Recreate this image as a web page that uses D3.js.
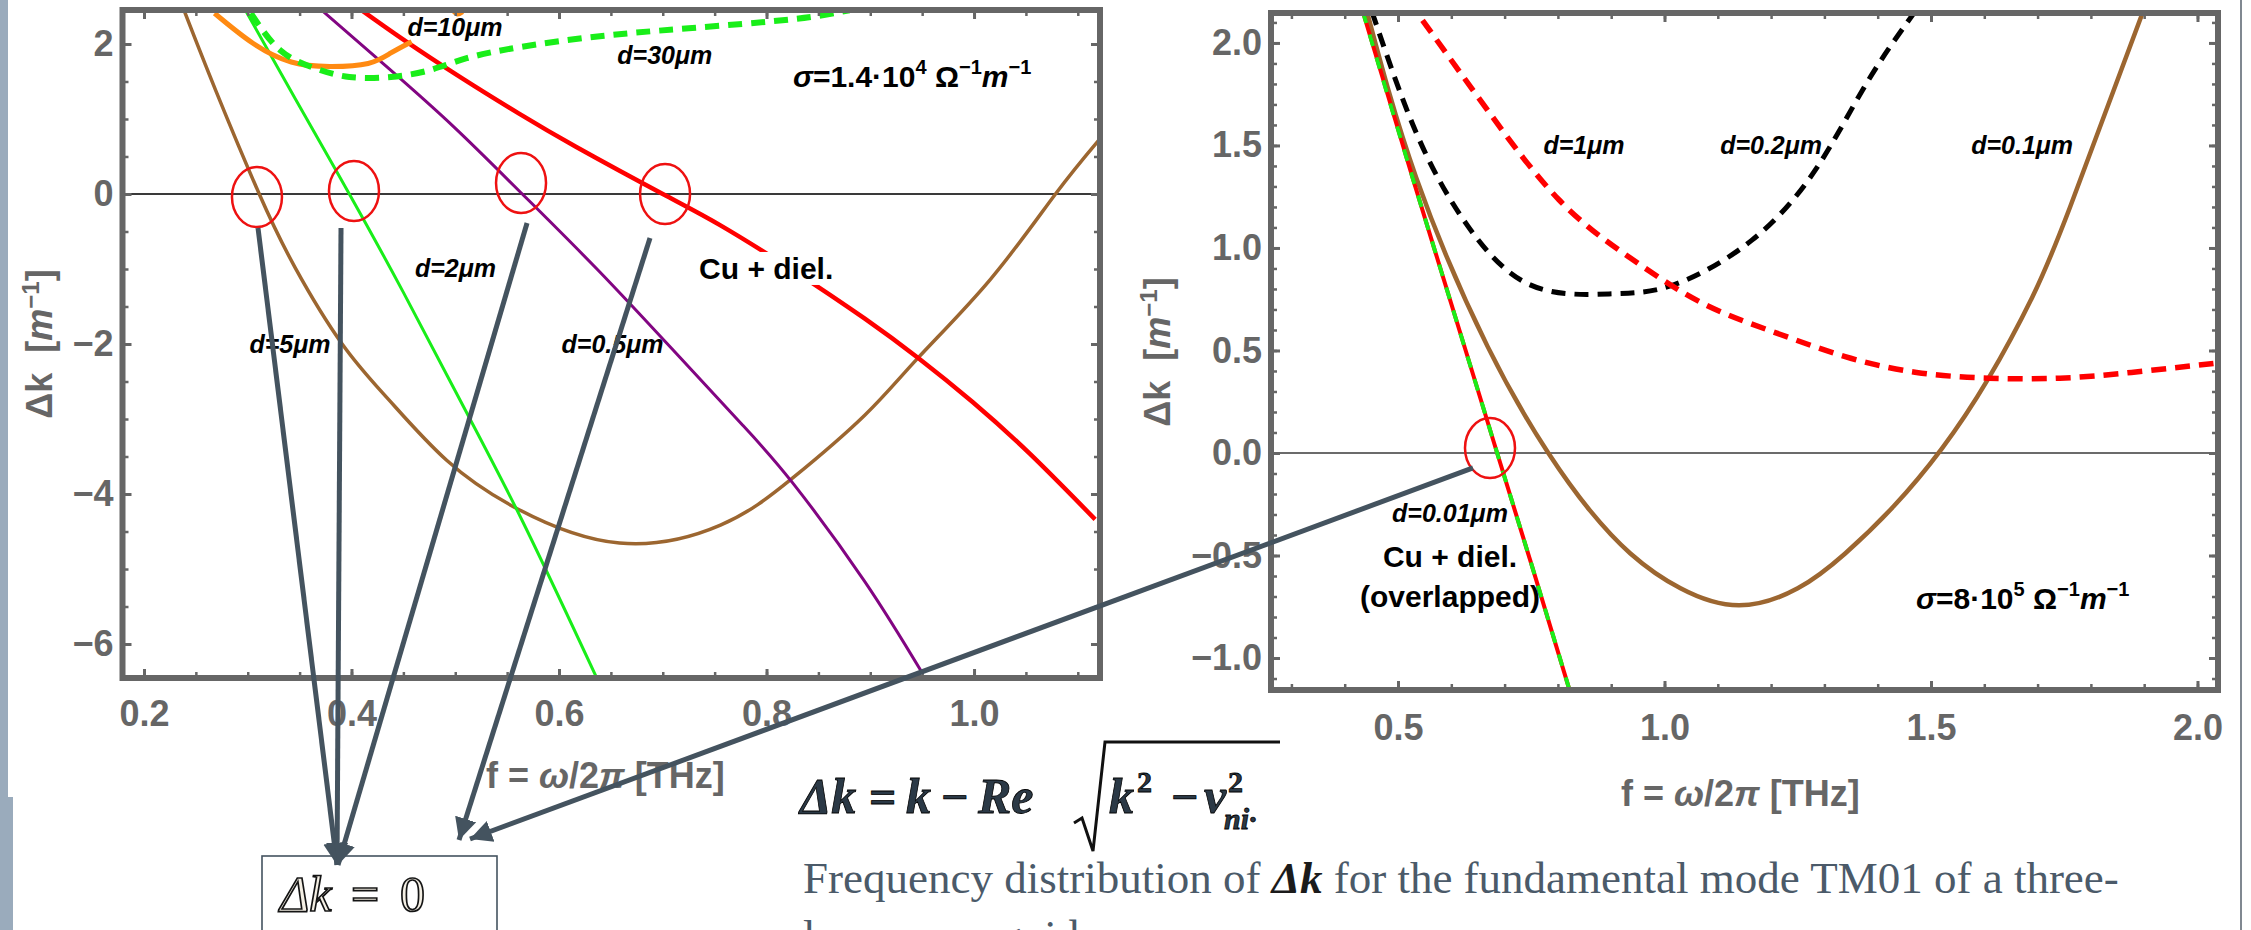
<!DOCTYPE html>
<html>
<head>
<meta charset="utf-8">
<script src="https://cdn.jsdelivr.net/npm/d3@7"></script>
<style>
  body { margin: 0; background: #fff; }
  svg { display: block; }
</style>
</head>
<body>
<div id="chart"></div>
<script>
// ---------- left panel, sigma = 1.4e4 (f in THz, dk in 1/m) ----------
const xTicksA = [0.2, 0.4, 0.6, 0.8, 1.0];
const yTicksA = [2, 0, -2, -4, -6];
const brown5um = [[0.2382, 2.464], [0.2694, 1.372], [0.3111, 0], [0.3458, -0.984], [0.391, -1.999], [0.4361, -2.745],
  [0.4917, -3.55], [0.5611, -4.206], [0.6583, -4.654], [0.7556, -4.415], [0.825, -3.789], [0.8944, -2.953],
  [0.9465, -2.178], [1.016, -1.134], [1.0785, 0], [1.1201, 0.716]];
const green2um = [[0.2972, 2.464], [0.3458, 1.271], [0.3979, 0], [0.45, -1.312], [0.5056, -2.774], [0.5646, -4.356], [0.6361, -6.444]];
const purple05um = [[0.3701, 2.464], [0.4361, 1.671], [0.4986, 0.895], [0.5646, 0], [0.6375, -1.014], [0.7104, -2.088],
  [0.7764, -3.073], [0.825, -3.848], [0.8944, -5.161], [0.95, -6.384]];
const redCuA = [[0.4083, 2.464], [0.45, 2.058], [0.5056, 1.551], [0.5611, 1.074], [0.6167, 0.626], [0.7, 0],
  [0.7556, -0.418], [0.825, -1.014], [0.8944, -1.659], [0.9465, -2.19], [0.9986, -2.774], [1.0542, -3.469], [1.1167, -4.338]];
const orange10um = [[0.268, 2.41], [0.305, 2.01], [0.342, 1.76], [0.379, 1.70], [0.416, 1.74], [0.438, 1.88], [0.458, 2.03]];
const orange10umB = [[0.497, 2.46], [0.502, 2.40], [0.507, 2.43]];
const green30um = [[0.303, 2.41], [0.331, 1.92], [0.364, 1.68], [0.398, 1.56], [0.438, 1.56], [0.475, 1.65],
  [0.511, 1.81], [0.563, 1.96], [0.637, 2.10], [0.725, 2.21], [0.825, 2.33], [0.88, 2.45]];

// ---------- right panel, sigma = 8e5 ----------
const xTicksB = [0.5, 1.0, 1.5, 2.0];
const yTicksB = [2.0, 1.5, 1.0, 0.5, 0.0, -0.5, -1.0];
const cuOverlap = [[0.434, 2.153], [0.53, 1.32], [0.644, 0.356], [0.686, 0], [0.75, -0.54], [0.822, -1.158]];
const brown01um = [[0.44, 2.17], [0.534, 1.344], [0.668, 0.52], [0.782, 0], [0.86, -0.28], [0.936, -0.49],
  [1.03, -0.66], [1.14, -0.743], [1.25, -0.66], [1.339, -0.49], [1.43, -0.26], [1.52, 0.02], [1.607, 0.36],
  [1.69, 0.76], [1.761, 1.2], [1.896, 2.14]];
const black02um = [[0.451, 2.153], [0.534, 1.563], [0.6275, 1.12], [0.748, 0.82], [0.896, 0.776], [1.017, 0.82],
  [1.164, 1.038], [1.285, 1.388], [1.379, 1.803], [1.47, 2.153]];
const red1um = [[0.546, 2.11], [0.668, 1.672], [0.802, 1.235], [0.936, 0.951], [1.07, 0.732], [1.205, 0.59],
  [1.339, 0.47], [1.473, 0.393], [1.607, 0.365], [1.742, 0.365], [1.876, 0.393], [2.03, 0.437]];

// zero-crossing markers [f, dk]
const circlesA = [[0.3089, -0.04], [0.4024, 0.04], [0.5634, 0.147], [0.7022, 0]];
const circlesB = [[0.6726, 0.024]];

// curve labels [text, f, dk]
const labelsA = [["d=10μm", 0.4998, 2.107], ["d=30μm", 0.702, 1.733], ["d=2μm", 0.5002, -1.107],
  ["d=5μm", 0.3407, -2.12], ["d=0.5μm", 0.6516, -2.12]];
const labelsB = [["d=1μm", 0.849, 1.459], ["d=0.2μm", 1.2, 1.459], ["d=0.1μm", 1.671, 1.459], ["d=0.01μm", 0.5976, -0.337]];

const W = 2251, H = 930;
const svg = d3.select("#chart").append("svg").attr("width", W).attr("height", H)
  .style("font-family", "'Liberation Sans', Arial, sans-serif");

// slide decoration
svg.append("rect").attr("x", 0).attr("y", 0).attr("width", 8).attr("height", 797).attr("fill", "#9aabbc");
svg.append("rect").attr("x", 0).attr("y", 797).attr("width", 13).attr("height", 133).attr("fill", "#9aabbc");
svg.append("line").attr("x1", 2241).attr("x2", 2241).attr("y1", 0).attr("y2", H).attr("stroke", "#56616c").attr("stroke-width", 1.5);

function rich(sel, parts, supSize) {
  let off = 0;
  parts.forEach(([t, k]) => {
    const ts = sel.append("tspan").text(t);
    if (k === "i") ts.attr("font-style", "italic");
    if (k === "sup") {
      ts.attr("font-size", supSize).attr("dy", -13 - off);
      off = -13;
    } else if (off !== 0) {
      ts.attr("dy", -off);
      off = 0;
    }
  });
}

const panels = [
  {
    id: "a", left: 122.5, right: 1100, top: 10, bottom: 678,
    xDomain: [0.1793, 1.1214], yDomain: [-6.453, 2.453],
    xTicks: xTicksA, yTicks: yTicksA, xMinor: d3.range(0.2, 1.11, 0.05), yMinor: d3.range(-6, 2.1, 0.5),
    xFmt: ".1f", yFmt: "d", xPad: 22, zeroW: 2,
    series: [
      { data: brown5um, color: "#9c6630", width: 3.5 },
      { data: green2um, color: "#19ee19", width: 3 },
      { data: purple05um, color: "#820582", width: 3 },
      { data: redCuA, color: "#ff0000", width: 4.5 },
      { data: orange10um, color: "#ff8a12", width: 5 },
      { data: orange10umB, color: "#ff8a12", width: 5 },
      { data: green30um, color: "#19ee19", width: 6, dash: "14,9" }
    ],
    circles: circlesA, labels: labelsA, titleX: 486, titleY: 788, ytX: 52, ytY: 344
  },
  {
    id: "b", left: 1271, right: 2218, top: 13, bottom: 690,
    xDomain: [0.2617, 2.0385], yDomain: [-1.156, 2.146],
    xTicks: xTicksB, yTicks: yTicksB, xMinor: d3.range(0.3, 2.01, 0.1), yMinor: d3.range(-1.1, 2.11, 0.1),
    xFmt: ".1f", yFmt: ".1f", xPad: 24, zeroW: 1.6,
    series: [
      { data: brown01um, color: "#9c6630", width: 4.5 },
      { data: black02um, color: "#000000", width: 5, dash: "14,9" },
      { data: red1um, color: "#ff0000", width: 5.5, dash: "15,9" },
      { data: cuOverlap, color: "#ff0000", width: 4 },
      { data: cuOverlap, color: "#19ee19", width: 4, dash: "12,12" }
    ],
    circles: circlesB, labels: labelsB, titleX: 1621, titleY: 806, ytX: 1170, ytY: 352
  }
];

const scales = {};

panels.forEach(p => {
  const x = d3.scaleLinear().domain(p.xDomain).range([p.left, p.right]);
  const y = d3.scaleLinear().domain(p.yDomain).range([p.bottom, p.top]);
  scales[p.id] = { x, y };

  svg.append("clipPath").attr("id", "clip-" + p.id)
    .append("rect")
    .attr("x", p.left).attr("y", p.top)
    .attr("width", p.right - p.left).attr("height", p.bottom - p.top);

  const g = svg.append("g");

  g.append("line")
    .attr("x1", p.left).attr("x2", p.right)
    .attr("y1", y(0)).attr("y2", y(0))
    .attr("stroke", "#3a3a3a").attr("stroke-width", p.zeroW);

  const line = d3.line().x(d => x(d[0])).y(d => y(d[1])).curve(d3.curveNatural);

  g.append("g").attr("clip-path", `url(#clip-${p.id})`)
    .selectAll("path")
    .data(p.series)
    .join("path")
    .attr("d", d => line(d.data))
    .attr("fill", "none")
    .attr("stroke", d => d.color)
    .attr("stroke-width", d => d.width)
    .attr("stroke-dasharray", d => d.dash || null);

  // frame ticks (inward, mathematica style)
  const styleAxis = sel => {
    sel.select(".domain").remove();
    sel.selectAll("line").attr("stroke", "#666").attr("stroke-width", 3);
    sel.selectAll("text").attr("fill", "#666").attr("font-size", 36).attr("font-weight", "bold")
      .attr("font-family", "'Liberation Sans', Arial, sans-serif");
  };
  const minorStyle = sel => {
    sel.select(".domain").remove();
    sel.selectAll("line").attr("stroke", "#666").attr("stroke-width", 2.5);
  };

  g.append("g").attr("transform", `translate(0,${p.bottom})`)
    .call(d3.axisBottom(x).tickValues(p.xMinor).tickSize(-6).tickFormat("")).call(minorStyle);
  g.append("g").attr("transform", `translate(0,${p.top})`)
    .call(d3.axisTop(x).tickValues(p.xMinor).tickSize(-6).tickFormat("")).call(minorStyle);
  g.append("g").attr("transform", `translate(${p.left},0)`)
    .call(d3.axisLeft(y).tickValues(p.yMinor).tickSize(-6).tickFormat("")).call(minorStyle);
  g.append("g").attr("transform", `translate(${p.right},0)`)
    .call(d3.axisRight(y).tickValues(p.yMinor).tickSize(-6).tickFormat("")).call(minorStyle);

  g.append("g").attr("transform", `translate(0,${p.bottom})`)
    .call(d3.axisBottom(x).tickValues(p.xTicks).tickSize(-9).tickPadding(p.xPad).tickFormat(d3.format(p.xFmt)))
    .call(styleAxis);
  g.append("g").attr("transform", `translate(0,${p.top})`)
    .call(d3.axisTop(x).tickValues(p.xTicks).tickSize(-9).tickFormat("")).call(styleAxis);
  g.append("g").attr("transform", `translate(${p.left},0)`)
    .call(d3.axisLeft(y).tickValues(p.yTicks).tickSize(-9).tickPadding(9).tickFormat(d3.format(p.yFmt)))
    .call(styleAxis);
  g.append("g").attr("transform", `translate(${p.right},0)`)
    .call(d3.axisRight(y).tickValues(p.yTicks).tickSize(-9).tickFormat("")).call(styleAxis);

  g.append("rect")
    .attr("x", p.left).attr("y", p.top)
    .attr("width", p.right - p.left).attr("height", p.bottom - p.top)
    .attr("fill", "none").attr("stroke", "#666").attr("stroke-width", 6);

  // axis titles
  const xt = g.append("text").attr("x", p.titleX).attr("y", p.titleY)
    .attr("fill", "#666").attr("font-size", 36).attr("font-weight", "bold");
  rich(xt, [["f = ", "n"], ["ω", "i"], ["/2", "n"], ["π", "i"], [" [THz]", "n"]], 24);

  const yt = g.append("text")
    .attr("transform", `translate(${p.ytX},${p.ytY}) rotate(-90)`)
    .attr("text-anchor", "middle").style("white-space", "pre")
    .attr("fill", "#666").attr("font-size", 36).attr("font-weight", "bold");
  rich(yt, [["Δk  [", "n"], ["m", "i"], ["−1", "sup"], ["]", "n"]], 24);

  // curve labels
  g.selectAll("text.lbl")
    .data(p.labels)
    .join("text")
    .attr("class", "lbl")
    .attr("x", d => x(d[1])).attr("y", d => y(d[2]))
    .attr("text-anchor", "middle")
    .attr("font-size", 25).attr("font-weight", "bold").attr("font-style", "italic")
    .attr("fill", "#000")
    .text(d => d[0]);

  // zero-crossing circles
  g.selectAll("ellipse")
    .data(p.circles)
    .join("ellipse")
    .attr("cx", d => x(d[0])).attr("cy", d => y(d[1]))
    .attr("rx", 25).attr("ry", 30)
    .attr("fill", "none").attr("stroke", "#ee1111").attr("stroke-width", 2.5);
});

// annotations inside panels
const A = scales.a, B = scales.b;
const cuA = svg.append("text").attr("x", A.x(0.735)).attr("y", A.y(-1.133))
  .attr("font-size", 30).attr("font-weight", "bold").text("Cu + diel.");
const bb = cuA.node().getBBox();
svg.insert("rect", () => cuA.node())
  .attr("x", bb.x - 2).attr("y", bb.y).attr("width", bb.width + 8).attr("height", bb.height)
  .attr("fill", "#fff");
const sigA = svg.append("text").attr("x", A.x(0.8255)).attr("y", A.y(1.427))
  .attr("font-size", 30).attr("font-weight", "bold");
rich(sigA, [["σ", "i"], ["=1.4·10", "n"], ["4", "sup"], [" Ω", "n"], ["−1", "sup"], ["m", "i"], ["−1", "sup"]], 20);

svg.append("text").attr("x", B.x(0.5976)).attr("y", B.y(-0.556)).attr("text-anchor", "middle")
  .attr("font-size", 30).attr("font-weight", "bold").text("Cu + diel.");
svg.append("text").attr("x", B.x(0.5976)).attr("y", B.y(-0.751)).attr("text-anchor", "middle")
  .attr("font-size", 30).attr("font-weight", "bold").text("(overlapped)");
const sigB = svg.append("text").attr("x", B.x(1.472)).attr("y", B.y(-0.761))
  .attr("font-size", 30).attr("font-weight", "bold");
rich(sigB, [["σ", "i"], ["=8·10", "n"], ["5", "sup"], [" Ω", "n"], ["−1", "sup"], ["m", "i"], ["−1", "sup"]], 20);

// result box
const box = { x: 262, y: 856, w: 235 };
svg.append("rect").attr("x", box.x).attr("y", box.y).attr("width", box.w).attr("height", 120)
  .attr("fill", "none").attr("stroke", "#44535f").attr("stroke-width", 1.6);
const bt = svg.append("text").attr("y", 911).attr("font-family", "'Liberation Serif', serif")
  .attr("font-size", 50).attr("fill", "#f4efe4").attr("stroke", "#141414").attr("stroke-width", 1.7);
bt.append("tspan").attr("x", 280).attr("font-style", "italic").text("Δk");
bt.append("tspan").attr("x", 351).text("=");
bt.append("tspan").attr("x", 400).text("0");

// arrows: start near each circle (data coords), end at the box
const arrowColor = "#44535f";
svg.append("defs").append("marker")
  .attr("id", "head").attr("viewBox", "0 0 10 10").attr("refX", 10).attr("refY", 5)
  .attr("markerUnits", "userSpaceOnUse").attr("markerWidth", 22).attr("markerHeight", 25)
  .attr("orient", "auto")
  .append("path").attr("d", "M0,0 L10,5 L0,10 Z").attr("fill", arrowColor);

const arrows = [
  { from: A, f: 0.3099, dk: -0.453, to: [337, 865] },
  { from: A, f: 0.3899, dk: -0.453, to: [337, 865] },
  { from: A, f: 0.5692, dk: -0.387, to: [338, 865] },
  { from: A, f: 0.6877, dk: -0.587, to: [459, 840] },
  { from: B, f: 0.6407, dk: -0.073, to: [470, 839] }
];
svg.append("g").selectAll("line")
  .data(arrows)
  .join("line")
  .attr("x1", d => d.from.x(d.f)).attr("y1", d => d.from.y(d.dk))
  .attr("x2", d => d.to[0]).attr("y2", d => d.to[1])
  .attr("stroke", arrowColor).attr("stroke-width", 5)
  .attr("marker-end", "url(#head)");

// formula
const fm = svg.append("g").attr("font-family", "'Liberation Serif', serif").attr("font-weight", "bold")
  .attr("fill", "#2b3946").attr("stroke", "#000").attr("stroke-width", 0.8);
const put = (t, xx, yy, size, it) => fm.append("text").attr("x", xx).attr("y", yy)
  .attr("font-size", size).attr("font-style", it ? "italic" : "normal").text(t);
put("Δk", 800, 813, 50, true);
put("=", 869, 813, 48, false);
put("k", 906, 813, 50, true);
put("−", 941, 813, 48, false);
put("Re", 978, 813, 50, true);
put("k", 1109, 813, 50, true);
put("2", 1137, 792, 30, false);
put("−", 1171, 813, 48, false);
put("ν", 1204, 813, 50, true);
put("2", 1228, 792, 30, false);
put("ni·", 1224, 829, 30, true);
fm.append("path").attr("d", "M1074,823 L1082,818 L1093,851 L1105,742 L1280,742")
  .attr("fill", "none").attr("stroke", "#111").attr("stroke-width", 3);

// caption
const cap = svg.append("text").attr("x", 803).attr("y", 893)
  .attr("font-family", "'Liberation Serif', serif").attr("font-size", 45).attr("fill", "#4b5a69");
cap.append("tspan").text("Frequency distribution of ");
cap.append("tspan").attr("font-weight", "bold").attr("font-style", "italic").attr("fill", "#1b1b1b").text("Δk");
cap.append("tspan").text(" for the fundamental mode TM01 of a three-");
svg.append("text").attr("x", 803).attr("y", 951)
  .attr("font-family", "'Liberation Serif', serif").attr("font-size", 45).attr("fill", "#4b5a69")
  .text("layer waveguide.");
</script>
</body>
</html>
